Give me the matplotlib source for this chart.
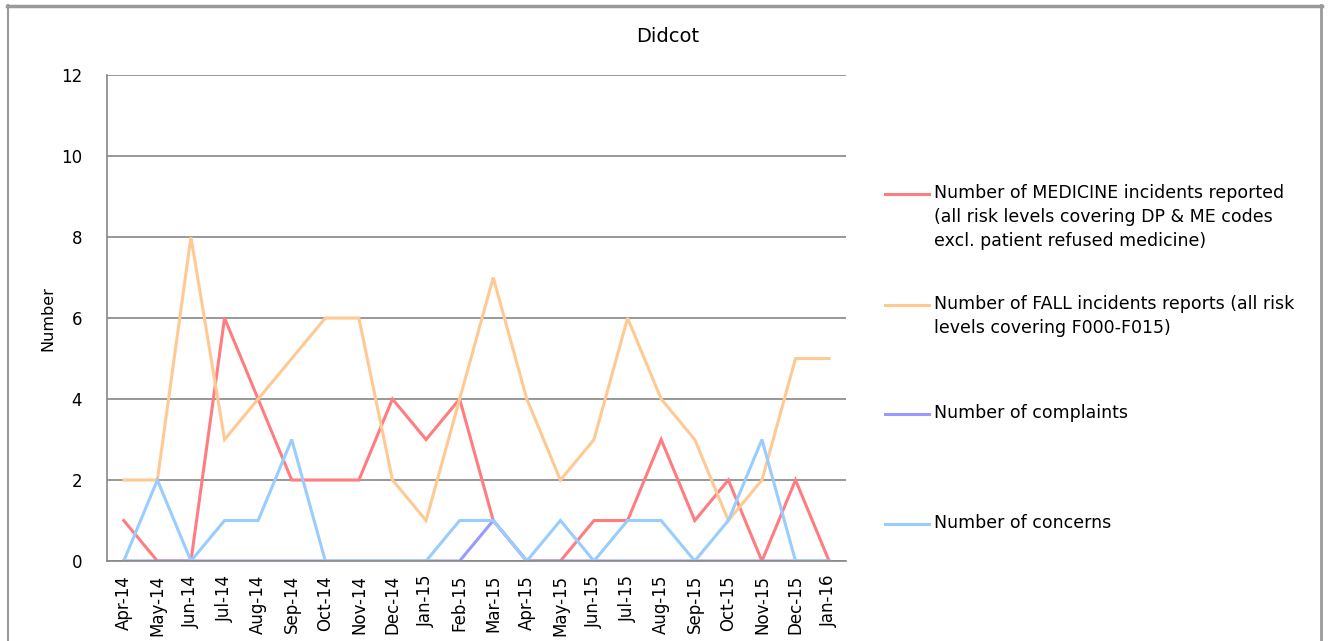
import matplotlib.pyplot as plt
from matplotlib.lines import Line2D

months = ['Apr-14', 'May-14', 'Jun-14', 'Jul-14', 'Aug-14', 'Sep-14', 'Oct-14', 'Nov-14',
          'Dec-14', 'Jan-15', 'Feb-15', 'Mar-15', 'Apr-15', 'May-15', 'Jun-15', 'Jul-15',
          'Aug-15', 'Sep-15', 'Oct-15', 'Nov-15', 'Dec-15', 'Jan-16']
medicine = [1, 0, 0, 6, 4, 2, 2, 2, 4, 3, 4, 1, 0, 0, 1, 1, 3, 1, 2, 0, 2, 0]
falls = [2, 2, 8, 3, 4, 5, 6, 6, 2, 1, 4, 7, 4, 2, 3, 6, 4, 3, 1, 2, 5, 5]
complaints = [0, 0, 0, 0, 0, 0, 0, 0, 0, 0, 0, 1, 0, 0, 0, 0, 0, 0, 0, 0, 0, 0]
concerns = [0, 2, 0, 1, 1, 3, 0, 0, 0, 0, 1, 1, 0, 1, 0, 1, 1, 0, 1, 3, 0, 0]

labels = ['Number of MEDICINE incidents reported\n(all risk levels covering DP & ME codes\nexcl. patient refused medicine)',
          'Number of FALL incidents reports (all risk\nlevels covering F000-F015)',
          'Number of complaints',
          'Number of concerns']
colors = ['#FF7C80', '#FFC993', '#9999FF', '#99CCFF']
series = [medicine, falls, complaints, concerns]

fig = plt.figure(figsize=(13.29, 6.41), dpi=100)
ax = fig.add_axes([0.0805, 0.1248, 0.556, 0.758])

x = list(range(len(months)))
for vals, c in zip(series, colors):
    ax.plot(x, vals, color=c, linewidth=2.2, solid_joinstyle='miter')

ax.set_xlim(-0.5, 21.5)
ax.set_ylim(0, 12)
ax.set_yticks(range(0, 13, 2))
ax.set_xticks(x)
ax.set_xticklabels(months, rotation=90, fontsize=12)
ax.tick_params(axis='y', labelsize=12, length=0, pad=18)
ax.tick_params(axis='x', length=0, pad=10)
ax.yaxis.grid(True, color='#868686', linewidth=1.2)
ax.set_axisbelow(True)
for s in ['top', 'right']:
    ax.spines[s].set_visible(False)
for s in ['left', 'bottom']:
    ax.spines[s].set_color('#868686')
    ax.spines[s].set_linewidth(1.2)
ax.set_ylabel('Number', fontsize=11.5, labelpad=4)
fig.text(668 / 1329, 1 - 37 / 641, 'Didcot', fontsize=14, ha='center', va='center')

# legend drawn by hand so the key sits on the first text line
leg_y = [194, 305, 414, 524]
for yy, lab, c in zip(leg_y, labels, colors):
    yf = 1 - yy / 641
    fig.add_artist(Line2D([885 / 1329, 929 / 1329], [yf, yf], color=c, linewidth=2.2))
    fig.text(934 / 1329, yf + 0.016, lab, fontsize=12.5, va='top', ha='left',
             linespacing=1.45)

# outer frame
fc = '#9a9a9a'
fig.add_artist(Line2D([7 / 1329, 1322 / 1329], [1 - 5.5 / 641, 1 - 5.5 / 641], color=fc, linewidth=2.5))
fig.add_artist(Line2D([7.5 / 1329, 7.5 / 1329], [0, 1 - 5 / 641], color=fc, linewidth=1.5))
fig.add_artist(Line2D([1321 / 1329, 1321 / 1329], [0, 1 - 5 / 641], color=fc, linewidth=2))

fig.savefig('out.png', dpi=100)
